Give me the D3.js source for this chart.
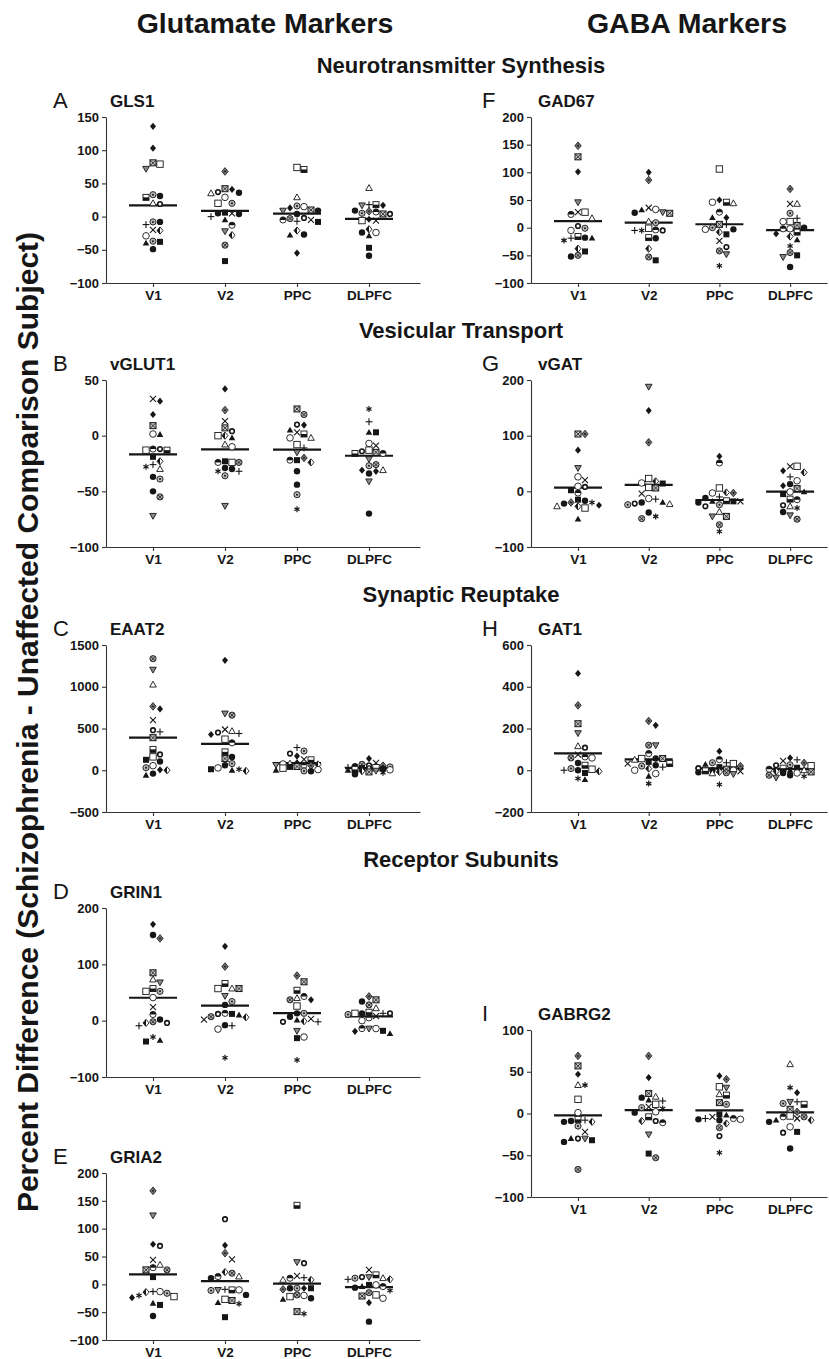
<!DOCTYPE html>
<html>
<head>
<meta charset="utf-8">
<script src="https://cdn.jsdelivr.net/npm/d3@7/dist/d3.min.js"></script>
<style>
  body { margin: 0; background: #fff; }
  text { font-family: "Liberation Sans", Arial, sans-serif; }
</style>
</head>
<body>
<script>
// regions on the x axis
var regions = ["V1", "V2", "PPC", "DLPFC"];

// each subject: [percent difference, symbol code], one list per region
var gls1 = [
  [[136,"fd"],[103,"fd"],[81,"xs"],[72,"dt"],[79,"os"],[29,"hs"],[33,"dc"],[31,"fc"],[19,"sc"],[20,"ot"],[-8,"dc"],[-8,"fc"],[-12,"+"],[-21,"hd"],[-20,"x"],[-29,"oc"],[-38,"fs"],[-37,"dc"],[-40,"ft"],[-49,"fc"]],
  [[68,"gd"],[41,"fd"],[42,"xs"],[35,"ot"],[36,"fc"],[37,"sc"],[20,"dc"],[20,"os"],[29,"oc"],[5,"x"],[4,"fc"],[5,"fc"],[6,"fs"],[0,"+"],[-5,"ft"],[-13,"hc"],[-28,"hd"],[-22,"dt"],[-43,"xc"],[-67,"fs"]],
  [[74,"os"],[71,"hs"],[29,"ot"],[10,"xs"],[9,"dt"],[16,"dc"],[15,"oc"],[13,"fd"],[9,"fc"],[4,"fc"],[-3,"xc"],[-5,"x"],[-8,"fs"],[-7,"+"],[-5,"hc"],[-2,"sc"],[-27,"fc"],[-28,"ft"],[-21,"hd"],[-55,"fd"]],
  [[43,"ot"],[18,"+"],[17,"dt"],[17,"fd"],[18,"hs"],[8,"gd"],[5,"dc"],[4,"xs"],[4,"sc"],[7,"hc"],[9,"fc"],[-4,"fd"],[-6,"x"],[-6,"os"],[-24,"oc"],[-29,"ft"],[-24,"fc"],[-19,"hd"],[-47,"fs"],[-59,"fc"]]
];
var gad67 = [
  [[148,"gd"],[128,"xs"],[101,"fd"],[46,"dt"],[28,"x"],[24,"hc"],[17,"ot"],[28,"os"],[3,"sc"],[-5,"oc"],[-1,"dc"],[-18,"fc"],[-19,"+"],[-23,"*"],[-19,"ft"],[-16,"hs"],[-43,"fs"],[-52,"fc"],[-50,"xc"],[-38,"hd"]],
  [[100,"fd"],[86,"gd"],[36,"x"],[28,"dt"],[26,"xs"],[27,"fc"],[33,"oc"],[32,"ft"],[9,"dc"],[11,"ot"],[-4,"hc"],[-5,"*"],[-1,"os"],[-5,"sc"],[-5,"+"],[-18,"hs"],[-19,"fc"],[-38,"hd"],[-59,"fs"],[-53,"xc"]],
  [[106,"os"],[50,"fd"],[46,"hs"],[46,"oc"],[44,"ot"],[28,"hc"],[18,"fd"],[18,"ft"],[6,"xs"],[6,"+"],[-3,"fc"],[-3,"oc"],[0,"dc"],[-12,"fs"],[-24,"x"],[-42,"xc"],[-48,"dt"],[-35,"sc"],[-69,"*"],[-8,"hd"]],
  [[70,"gd"],[43,"x"],[43,"ot"],[26,"dc"],[17,"+"],[11,"os"],[4,"xs"],[0,"fc"],[-2,"oc"],[-2,"hc"],[11,"oc"],[-8,"hs"],[-11,"fd"],[-22,"ft"],[-16,"hd"],[-33,"*"],[-45,"xc"],[-50,"fs"],[-53,"dt"],[-71,"fc"]]
];
var vglut1 = [
  [[31,"fd"],[33,"x"],[19,"fd"],[9,"xs"],[1.5,"oc"],[1,"ft"],[-12,"hc"],[-13,"os"],[-13,"hs"],[-12,"sc"],[-19,"fs"],[-23,"hd"],[-28,"*"],[-30,"ot"],[-26,"+"],[-37,"fc"],[-39,"dc"],[-50,"fc"],[-55,"xc"],[-72,"dt"]],
  [[42,"fd"],[23,"gd"],[13,"x"],[7,"xs"],[4,"sc"],[0,"hd"],[-2,"ft"],[0,"os"],[-8,"ot"],[-10,"oc"],[-24,"os"],[-24,"hc"],[-24,"xc"],[-23,"fs"],[-30,"fc"],[-32,"*"],[-36,"dc"],[-32,"+"],[-29,"fc"],[-63,"dt"]],
  [[24,"xs"],[19,"xc"],[9.5,"fd"],[5,"ft"],[10,"sc"],[1.5,"hs"],[-2,"oc"],[-2,"ot"],[3,"x"],[-8,"os"],[-11,"+"],[-15,"dt"],[-22,"fs"],[-24,"hd"],[-22,"hc"],[-20,"gd"],[-32,"fc"],[-44,"fc"],[-53,"dc"],[-66,"*"]],
  [[24,"*"],[12.5,"+"],[3,"ft"],[3,"fs"],[-7,"oc"],[-9,"x"],[-13,"os"],[-15,"xs"],[-16,"hc"],[-14,"sc"],[-16,"hs"],[-21,"dt"],[-26,"xc"],[-32,"fd"],[-27,"dc"],[-31,"fd"],[-34,"fc"],[-31,"ot"],[-41,"dt"],[-70,"fc"]]
];
var vgat = [
  [[103,"xs"],[103,"gd"],[74,"fd"],[42,"dt"],[26,"oc"],[20,"x"],[8,"sc"],[9,"oc"],[-3,"hc"],[2,"fs"],[-17,"fc"],[-20,"gd"],[-22,"fc"],[-25,"fd"],[-27,"hd"],[-30,"os"],[-27,"ot"],[-20,"*"],[-15,"fs"],[-50,"ft"]],
  [[188,"dt"],[145,"fd"],[88,"gd"],[23,"os"],[15,"oc"],[6,"xs"],[14,"fs"],[18,"hd"],[7,"os"],[-4,"x"],[-14,"+"],[-22,"sc"],[-23,"ot"],[-24,"dc"],[-20,"fc"],[-20,"ft"],[-13,"oc"],[-38,"fc"],[-49,"xc"],[-45,"*"]],
  [[63,"fd"],[51,"hc"],[6,"os"],[-2,"hd"],[-3,"oc"],[-3,"gd"],[-10,"+"],[-12,"fc"],[-18,"ft"],[-18,"fs"],[-18,"x"],[-17,"hs"],[-27,"sc"],[-24,"dc"],[-37,"ot"],[-45,"xs"],[-45,"dt"],[-60,"xc"],[-72,"*"],[-20,"fc"]],
  [[45,"x"],[45,"os"],[34,"hd"],[37,"fd"],[26,"+"],[19,"oc"],[13,"fc"],[10,"fd"],[5,"xs"],[-1,"oc"],[-1,"ft"],[-5,"fs"],[-15,"hc"],[-27,"ot"],[-30,"*"],[-25,"sc"],[-14,"hs"],[-37,"fc"],[-43,"dt"],[-50,"xc"]]
];
var eaat2 = [
  [[1336,"xc"],[1205,"dt"],[1025,"ot"],[765,"gd"],[735,"fd"],[600,"x"],[460,"+"],[480,"sc"],[390,"xs"],[250,"hs"],[160,"os"],[190,"sc"],[125,"fs"],[105,"fc"],[30,"dc"],[0,"hd"],[55,"oc"],[5,"fd"],[-60,"ft"],[-40,"fc"]],
  [[1316,"fd"],[680,"dt"],[660,"xc"],[488,"x"],[452,"sc"],[428,"fd"],[440,"+"],[468,"ot"],[372,"os"],[328,"hc"],[220,"hs"],[140,"xs"],[160,"fc"],[80,"dc"],[28,"oc"],[12,"*"],[0,"ft"],[-8,"hd"],[12,"fs"],[60,"fc"]],
  [[272,"+"],[230,"dc"],[200,"sc"],[170,"fd"],[130,"x"],[125,"hs"],[90,"fd"],[80,"ot"],[75,"oc"],[70,"hd"],[65,"dt"],[60,"hc"],[55,"gd"],[45,"xs"],[25,"os"],[8,"oc"],[-8,"dc"],[-12,"fc"],[0,"ft"],[40,"fs"]],
  [[140,"fd"],[88,"x"],[70,"xc"],[60,"sc"],[55,"gd"],[45,"hc"],[40,"dc"],[35,"+"],[30,"os"],[25,"fs"],[20,"ot"],[15,"fc"],[10,"hs"],[5,"oc"],[0,"ft"],[-5,"dt"],[-10,"hd"],[-20,"xs"],[-30,"*"],[-48,"fc"]]
];
var gat1 = [
  [[464,"fd"],[311,"gd"],[223,"xs"],[178,"dt"],[115,"ot"],[108,"sc"],[75,"x"],[64,"hc"],[59,"xc"],[59,"oc"],[35,"fc"],[8,"dc"],[5,"os"],[0,"fc"],[-5,"hd"],[24,"hs"],[-13,"fs"],[-45,"ft"],[-40,"*"],[0,"+"]],
  [[215,"fd"],[236,"gd"],[120,"xc"],[120,"dt"],[80,"hc"],[56,"fc"],[56,"os"],[50,"ot"],[56,"xs"],[32,"hs"],[8,"hd"],[32,"x"],[0,"oc"],[24,"fc"],[-16,"oc"],[-29,"ft"],[-64,"*"],[20,"dc"],[15,"+"],[40,"fs"]],
  [[91,"fd"],[51,"hc"],[36,"+"],[36,"dc"],[32,"os"],[28,"ft"],[20,"gd"],[15,"fs"],[10,"sc"],[5,"xs"],[0,"fc"],[0,"oc"],[-3,"hs"],[-5,"x"],[-8,"hd"],[-10,"fc"],[-12,"xc"],[-15,"ot"],[-18,"dt"],[-68,"*"]],
  [[45,"x"],[50,"+"],[59,"fd"],[35,"gd"],[26,"dc"],[24,"sc"],[22,"os"],[12,"fs"],[10,"hs"],[5,"hc"],[0,"ot"],[0,"ft"],[-5,"hd"],[-8,"xs"],[-13,"oc"],[-24,"xc"],[-35,"dt"],[-24,"fc"],[-29,"*"],[-13,"fc"]]
];
var grin1 = [
  [[171,"fd"],[146,"gd"],[152,"fc"],[85,"xs"],[68,"dt"],[73,"ot"],[57,"hs"],[52,"dc"],[52,"os"],[41,"oc"],[24,"x"],[11,"hc"],[-2,"xc"],[-4,"hd"],[-9,"+"],[-4,"sc"],[2,"fc"],[-29,"*"],[-37,"fs"],[-35,"ft"]],
  [[132,"fd"],[96,"gd"],[57,"ot"],[57,"os"],[57,"xs"],[66,"hs"],[44,"dt"],[34,"dc"],[28,"fc"],[12,"fs"],[12,"sc"],[6,"hd"],[2,"x"],[7,"xc"],[10,"ft"],[13,"hc"],[-9,"+"],[-15,"oc"],[-8,"fc"],[-66,"*"]],
  [[80,"gd"],[69,"xs"],[54,"hs"],[40,"ot"],[37,"xc"],[37,"fd"],[43,"hc"],[26,"os"],[13,"fc"],[13,"dc"],[3,"x"],[-1,"hd"],[-2,"sc"],[-2,"+"],[1,"ft"],[7,"fc"],[-18,"dt"],[-29,"oc"],[-31,"fs"],[-70,"*"]],
  [[34,"fc"],[43,"gd"],[37,"xs"],[28,"xc"],[22,"ot"],[13,"fc"],[13,"+"],[13,"os"],[13,"sc"],[15,"hs"],[11,"dc"],[0,"oc"],[5,"hc"],[8,"x"],[-14,"dt"],[-19,"fd"],[-23,"ft"],[-18,"fs"],[-14,"oc"],[-14,"hc"]]
];
var gria2 = [
  [[168,"gd"],[124,"dt"],[72,"fd"],[69,"sc"],[44,"x"],[30,"hc"],[35,"ot"],[26,"xs"],[26,"xc"],[13,"fs"],[-13,"+"],[-16,"dc"],[-22,"os"],[-20,"*"],[-24,"fd"],[-14,"hd"],[-13,"oc"],[-34,"ft"],[-37,"fs"],[-57,"fc"]],
  [[117,"sc"],[70,"fd"],[45,"x"],[56,"gd"],[20,"xc"],[14,"hc"],[11,"fc"],[14,"ot"],[22,"hd"],[-9,"+"],[-10,"hs"],[-10,"dt"],[-11,"dc"],[-10,"oc"],[-19,"fc"],[-27,"os"],[-33,"ft"],[-35,"*"],[-29,"xs"],[-59,"fs"]],
  [[142,"hs"],[38,"sc"],[40,"dt"],[15,"x"],[12,"+"],[8,"hd"],[8,"ot"],[11,"hc"],[-7,"dc"],[-7,"fd"],[-7,"fc"],[-7,"fs"],[-9,"gd"],[-20,"oc"],[-25,"fc"],[-27,"ft"],[-22,"os"],[-19,"xc"],[-53,"*"],[-49,"xs"]],
  [[26,"x"],[13,"dt"],[11,"ot"],[9,"hd"],[9,"+"],[11,"dc"],[13,"sc"],[17,"hs"],[-1,"fs"],[-4,"ft"],[-6,"fc"],[-1,"oc"],[-4,"hc"],[-19,"os"],[-25,"oc"],[-15,"xc"],[-11,"*"],[-21,"xs"],[-33,"fd"],[-67,"fc"]]
];
var gabrg2 = [
  [[69,"gd"],[57,"xs"],[47,"fd"],[34,"ot"],[34,"*"],[17,"os"],[1,"oc"],[-9,"fc"],[-10,"hd"],[-7,"hs"],[-10,"fc"],[-8,"+"],[-15,"dc"],[-22,"x"],[-30,"sc"],[-32,"fs"],[-34,"fc"],[-30,"dt"],[-30,"ft"],[-67,"xc"]],
  [[69,"gd"],[43,"fd"],[24,"xs"],[19,"fc"],[15,"+"],[16,"ft"],[20,"ot"],[11,"os"],[7,"dc"],[8,"x"],[6,"*"],[2,"oc"],[1,"fc"],[-4,"hs"],[-9,"sc"],[-11,"hc"],[-9,"hd"],[-25,"dt"],[-53,"xc"],[-48,"fs"]],
  [[41,"gd"],[45,"fd"],[32,"os"],[31,"dt"],[23,"ot"],[22,"hs"],[11,"dc"],[13,"xs"],[-6,"hc"],[-6,"+"],[-4,"x"],[-1,"fs"],[-8,"fc"],[-7,"oc"],[-7,"fc"],[-12,"hd"],[-17,"xc"],[-27,"sc"],[-47,"*"],[-2,"ft"]],
  [[59,"ot"],[25,"fd"],[31,"*"],[14,"dt"],[12,"dc"],[11,"hs"],[14,"+"],[5,"xs"],[-4,"hc"],[-3,"os"],[-8,"ft"],[-10,"fc"],[-8,"hd"],[-6,"x"],[-4,"xc"],[-16,"oc"],[-22,"fs"],[-23,"sc"],[-42,"fc"],[2,"gd"]]
];

// y tick labels of each panel
var ticksGls1 = [-100, -50, 0, 50, 100, 150];
var ticksGad67 = [-100, -50, 0, 50, 100, 150, 200];
var ticksVglut1 = [-100, -50, 0, 50];
var ticksVgat = [-100, 0, 100, 200];
var ticksEaat2 = [-500, 0, 500, 1000, 1500];
var ticksGat1 = [-200, 0, 200, 400, 600];
var ticksGrin1 = [-100, 0, 100, 200];
var ticksGria2 = [-100, -50, 0, 50, 100, 150, 200];
var ticksGabrg2 = [-100, -50, 0, 50, 100];

var ink = "#161616";
var W = 829, H = 1359;

var svg = d3.select("body").append("svg")
    .attr("width", W)
    .attr("height", H);

// column geometry: y axis position, first category, right end of x axis
var cols = [
    {axis: 106, first: 153, step: 72, end: 420},
    {axis: 531, first: 578, step: 70.7, end: 827}
];

var panels = [
    {letter: "A", name: "GLS1", data: gls1, ticks: ticksGls1, col: 0, top: 117, bottom: 283},
    {letter: "F", name: "GAD67", data: gad67, ticks: ticksGad67, col: 1, top: 117, bottom: 283},
    {letter: "B", name: "vGLUT1", data: vglut1, ticks: ticksVglut1, col: 0, top: 380, bottom: 547},
    {letter: "G", name: "vGAT", data: vgat, ticks: ticksVgat, col: 1, top: 380, bottom: 547},
    {letter: "C", name: "EAAT2", data: eaat2, ticks: ticksEaat2, col: 0, top: 645, bottom: 812},
    {letter: "H", name: "GAT1", data: gat1, ticks: ticksGat1, col: 1, top: 645, bottom: 812},
    {letter: "D", name: "GRIN1", data: grin1, ticks: ticksGrin1, col: 0, top: 908, bottom: 1077},
    {letter: "E", name: "GRIA2", data: gria2, ticks: ticksGria2, col: 0, top: 1173, bottom: 1340},
    {letter: "I", name: "GABRG2", data: gabrg2, ticks: ticksGabrg2, col: 1, top: 1030, bottom: 1197}
];

// headers
svg.append("text").attr("x", 265).attr("y", 33).attr("text-anchor", "middle")
    .style("font-size", "28.5px").style("font-weight", "bold").attr("fill", ink)
    .text("Glutamate Markers");
svg.append("text").attr("x", 687).attr("y", 33).attr("text-anchor", "middle")
    .style("font-size", "28.5px").style("font-weight", "bold").attr("fill", ink)
    .text("GABA Markers");

var sections = [["Neurotransmitter Synthesis", 73], ["Vesicular Transport", 338],
                ["Synaptic Reuptake", 602], ["Receptor Subunits", 867]];
sections.forEach(function(s) {
    svg.append("text").attr("x", 461).attr("y", s[1]).attr("text-anchor", "middle")
        .style("font-size", "22px").style("font-weight", "bold").attr("fill", ink)
        .text(s[0]);
});

svg.append("text")
    .attr("transform", "translate(38,722) rotate(-90)")
    .attr("text-anchor", "middle")
    .style("font-size", "30px").style("font-weight", "bold").attr("fill", ink)
    .text("Percent Difference (Schizophrenia - Unaffected Comparison Subject)");

// symbol drawing
function tri(r, down) {
    var s = down ? -1 : 1;
    return "M0," + (-s * r * 1.15) + "L" + (r * 1.1) + "," + (s * r * 0.8) + "L" + (-r * 1.1) + "," + (s * r * 0.8) + "Z";
}
function diamond(r) {
    return "M0," + (-r * 1.2) + "L" + r + ",0L0," + (r * 1.2) + "L" + (-r) + ",0Z";
}
function seg(g, x1, y1, x2, y2, w, c) {
    g.append("line").attr("x1", x1).attr("y1", y1).attr("x2", x2).attr("y2", y2)
        .attr("stroke", c || ink).attr("stroke-width", w);
}

function drawMark(g, code) {
    var r = 3;
    switch (code) {
    case "fc":
        g.append("circle").attr("r", r + 0.2).attr("fill", ink);
        break;
    case "oc":
        g.append("circle").attr("r", r + 0.3).attr("fill", "#fff").attr("stroke", ink).attr("stroke-width", 0.9);
        break;
    case "sc":
        g.append("circle").attr("r", r - 0.7).attr("fill", "#fff").attr("stroke", ink).attr("stroke-width", 1.6);
        break;
    case "dc":
        g.append("circle").attr("r", r + 0.1).attr("fill", "#b8b8b8").attr("stroke", ink).attr("stroke-width", 0.9);
        g.append("circle").attr("r", 1).attr("fill", ink);
        break;
    case "xc":
        g.append("circle").attr("r", r + 0.1).attr("fill", "#a8a8a8").attr("stroke", ink).attr("stroke-width", 0.9);
        seg(g, -2, -2, 2, 2, 0.8); seg(g, -2, 2, 2, -2, 0.8);
        break;
    case "hc":
        g.append("circle").attr("r", r + 0.1).attr("fill", "#fff").attr("stroke", ink).attr("stroke-width", 0.9);
        g.append("path").attr("d", "M" + (-r) + ",0A" + r + "," + r + " 0 0 1 " + r + ",0Z").attr("fill", ink);
        break;
    case "fs":
        g.append("rect").attr("x", -r).attr("y", -r).attr("width", 2 * r).attr("height", 2 * r).attr("fill", ink);
        break;
    case "os":
        g.append("rect").attr("x", -r - 0.2).attr("y", -r - 0.2).attr("width", 2 * r + 0.4).attr("height", 2 * r + 0.4)
            .attr("fill", "#fff").attr("stroke", ink).attr("stroke-width", 0.9);
        break;
    case "xs":
        g.append("rect").attr("x", -r).attr("y", -r).attr("width", 2 * r).attr("height", 2 * r)
            .attr("fill", "#c4c4c4").attr("stroke", ink).attr("stroke-width", 1);
        seg(g, -r, -r, r, r, 0.8); seg(g, -r, r, r, -r, 0.8);
        break;
    case "hs":
        g.append("rect").attr("x", -r).attr("y", -r).attr("width", 2 * r).attr("height", 2 * r)
            .attr("fill", "#fff").attr("stroke", ink).attr("stroke-width", 0.9);
        g.append("rect").attr("x", -r).attr("y", 0).attr("width", 2 * r).attr("height", r).attr("fill", ink);
        break;
    case "ft":
        g.append("path").attr("d", tri(r, false)).attr("fill", ink);
        break;
    case "ot":
        g.append("path").attr("d", tri(r, false)).attr("fill", "#fff").attr("stroke", ink).attr("stroke-width", 0.9);
        break;
    case "dt":
        g.append("path").attr("d", tri(r, true)).attr("fill", "#8a8a8a").attr("stroke", ink).attr("stroke-width", 0.9);
        break;
    case "fd":
        g.append("path").attr("d", diamond(r)).attr("fill", ink);
        break;
    case "gd":
        g.append("path").attr("d", diamond(r + 0.2)).attr("fill", "#6e6e6e").attr("stroke", ink).attr("stroke-width", 0.8);
        g.append("circle").attr("r", 0.9).attr("fill", ink);
        break;
    case "hd":
        g.append("path").attr("d", diamond(r)).attr("fill", "#fff").attr("stroke", ink).attr("stroke-width", 0.9);
        g.append("path").attr("d", "M0," + (-r * 1.2) + "L" + (-r) + ",0L0," + (r * 1.2) + "Z").attr("fill", ink);
        break;
    case "x":
        seg(g, -r, -r, r, r, 1.1); seg(g, -r, r, r, -r, 1.1);
        break;
    case "+":
        seg(g, -r - 0.4, 0, r + 0.4, 0, 1.1); seg(g, 0, -r - 0.4, 0, r + 0.4, 1.1);
        break;
    case "*":
        seg(g, 0, -r, 0, r, 1.2);
        seg(g, -r * 0.87, -r * 0.5, r * 0.87, r * 0.5, 1.2);
        seg(g, -r * 0.87, r * 0.5, r * 0.87, -r * 0.5, 1.2);
        break;
    }
}

// spread points sideways so they do not sit on top of each other
function swarm(points, y) {
    var step = 7, offs = [0];
    for (var k = 1; k <= 3; k++) { offs.push(k * step); offs.push(-k * step); }
    var placed = [];
    points.slice().sort(function(a, b) { return b[0] - a[0]; }).forEach(function(p) {
        var py = y(p[0]), best = 0, bestD = -1, chosen = null;
        for (var i = 0; i < offs.length; i++) {
            var o = offs[i], minD = Infinity;
            placed.forEach(function(q) {
                var dd = Math.hypot(o - q.o, py - q.py);
                if (dd < minD) minD = dd;
            });
            if (minD >= step - 0.4) { chosen = o; break; }
            if (minD > bestD) { bestD = minD; best = o; }
        }
        placed.push({p: p, o: chosen === null ? best : chosen, py: py});
    });
    return placed;
}

panels.forEach(function(pn) {
    var c = cols[pn.col];
    var x = d3.scaleLinear()
        .domain([1, 4])
        .range([c.first, c.first + 3 * c.step]);
    var x0 = x.invert(c.axis), x1 = x.invert(c.end);
    x.domain([x0, x1]).range([c.axis, c.end]);

    var y = d3.scaleLinear()
        .domain(d3.extent(pn.ticks))
        .range([pn.bottom, pn.top]);

    var g = svg.append("g");

    var yAxis = g.append("g")
        .attr("transform", "translate(" + c.axis + ",0)")
        .call(d3.axisLeft(y).tickValues(pn.ticks).tickFormat(d3.format("d"))
            .tickSize(4).tickSizeOuter(0).tickPadding(3));
    var xAxis = g.append("g")
        .attr("transform", "translate(0," + pn.bottom + ")")
        .call(d3.axisBottom(x).tickValues([1, 2, 3, 4])
            .tickFormat(function(d) { return regions[d - 1]; })
            .tickSize(4).tickSizeOuter(0).tickPadding(3));
    [yAxis, xAxis].forEach(function(a) {
        a.select(".domain").attr("stroke", "#333").attr("stroke-width", 1.1);
        a.selectAll(".tick line").attr("stroke", "#333").attr("stroke-width", 1.1);
        a.selectAll("text").attr("fill", ink)
            .style("font-family", "'Liberation Sans', Arial, sans-serif")
            .style("font-weight", "bold");
    });
    yAxis.selectAll("text").style("font-size", "13px");
    xAxis.selectAll("text").style("font-size", "13.5px");

    g.append("text")
        .attr("x", pn.col === 0 ? 53 : 482).attr("y", pn.top - 9)
        .style("font-size", "22px").attr("fill", ink)
        .text(pn.letter);
    g.append("text")
        .attr("x", pn.col === 0 ? 110 : 538).attr("y", pn.top - 10)
        .style("font-size", "17px").style("font-weight", "bold").attr("fill", ink)
        .text(pn.name);

    pn.data.forEach(function(group, i) {
        var cx = x(i + 1);
        var m = d3.mean(group, function(d) { return d[0]; });
        g.append("line")
            .attr("x1", cx - 24).attr("x2", cx + 24)
            .attr("y1", y(m)).attr("y2", y(m))
            .attr("stroke", ink).attr("stroke-width", 2.2);

        swarm(group, y).forEach(function(s) {
            var mk = g.append("g").attr("transform", "translate(" + (cx + s.o) + "," + s.py + ")");
            drawMark(mk, s.p[1]);
        });
    });
});
</script>
</body>
</html>
